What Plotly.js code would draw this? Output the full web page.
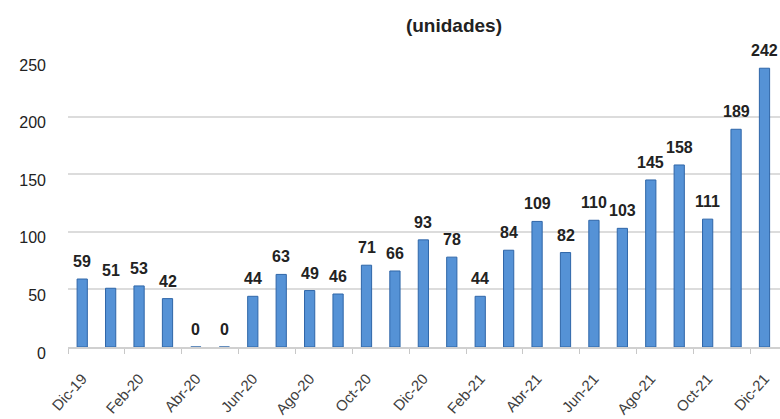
<!DOCTYPE html>
<html><head><meta charset="utf-8">
<script src="https://cdn.plot.ly/plotly-3.0.1.min.js"></script>
<style>html,body{margin:0;padding:0;background:#fff}#c{width:780px;height:419px}</style>
</head><body><div id="c"></div>
<script>
var months = ["Dic-19","Ene-20","Feb-20","Mar-20","Abr-20","May-20","Jun-20","Jul-20","Ago-20","Sep-20","Oct-20","Nov-20","Dic-20","Ene-21","Feb-21","Mar-21","Abr-21","May-21","Jun-21","Jul-21","Ago-21","Sep-21","Oct-21","Nov-21","Dic-21"];
var units = [59,51,53,42,0,0,44,63,49,46,71,66,93,78,44,84,109,82,110,103,145,158,111,189,242];
var yTicks = [0,50,100,150,200,250];
var titleText = "(unidades)";

var annotations = months.map(function(m,i){
  return {x:m, y:units[i], text:String(units[i]), showarrow:false, yanchor:'bottom', yshift:7,
    font:{family:'Liberation Sans, Arial', size:16, color:'#222', weight:'bold'}};
});

var trace = {
  type:'bar', x:months, y:units,
  marker:{color:'#5592d6', line:{color:'#2f66a8', width:1}},
  width:0.36, hoverinfo:'none'
};
var layout = {
  width:780, height:419,
  margin:{l:68, r:0, t:59, b:72},
  paper_bgcolor:'#fff', plot_bgcolor:'#fff',
  title:{text:'<b>'+titleText+'</b>', x:0.582, xanchor:'center', y:0.94, yanchor:'middle',
    font:{family:'Liberation Sans, Arial', size:19, color:'#222'}},
  showlegend:false,
  xaxis:{type:'category', tickmode:'linear', tick0:0, dtick:2, tickson:'boundaries',
    ticks:'outside', ticklen:5, tickcolor:'#c8c8c8', tickangle:-48, ticklabelstandoff:15,
    showline:true, linecolor:'#d0d0d0', linewidth:2, showgrid:false,
    tickfont:{family:'Liberation Sans, Arial', size:15, color:'#404040'}},
  yaxis:{range:[0,250], tickvals:yTicks, showgrid:true, gridcolor:'#dcdcdc', gridwidth:2,
    zeroline:false, ticks:'', ticklabelstandoff:21, ticklabelshift:6,
    tickfont:{family:'Liberation Sans, Arial', size:16, color:'#222'}},
  annotations:annotations
};
Plotly.newPlot('c',[trace],layout,{staticPlot:true});
</script></body></html>
